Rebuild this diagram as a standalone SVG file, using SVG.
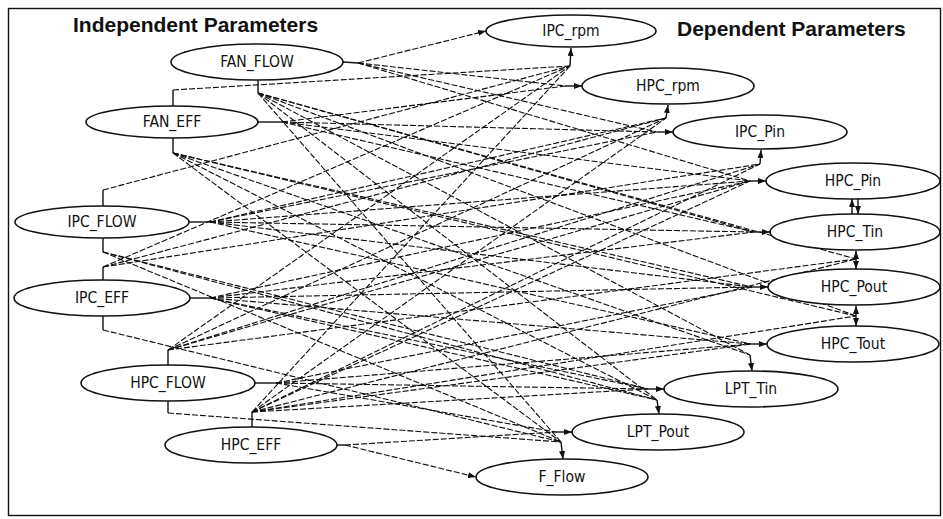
<svg xmlns="http://www.w3.org/2000/svg" width="943" height="519" viewBox="0 0 943 519">
  <style>
    .frame { fill: #ffffff; stroke: #111; stroke-width: 1.4; }
    .node ellipse { fill: #ffffff; stroke: #111; stroke-width: 1.6; }
    .node text { font-family: "DejaVu Sans Condensed", "DejaVu Sans", sans-serif; font-stretch: condensed; font-size: 15.5px; fill: #111; text-anchor: middle; }
    .head { font-family: "Liberation Sans", Arial, sans-serif; font-weight: bold; font-size: 21px; fill: #111; }
    .e { stroke: #0d0d0d; stroke-width: 1.1; stroke-dasharray: 6 2; fill: none; }
    .s { stroke: #111; stroke-width: 1.4; fill: none; }
    .arr { marker-end: url(#ah); }
  </style>
  <defs>
    <marker id="ah" markerUnits="userSpaceOnUse" markerWidth="8" markerHeight="6" refX="8" refY="3" orient="auto">
      <path d="M0,0 L8,3 L0,6 z" fill="#111"/>
    </marker>
  </defs>

  <rect class="frame" x="8.5" y="8.5" width="932" height="507"/>

  <text class="head" x="73" y="32">Independent Parameters</text>
  <text class="head" x="677" y="36">Dependent Parameters</text>

  <g id="connectors">
    <!-- port stubs on the independent nodes -->
    <line class="s" x1="343" y1="62" x2="358" y2="63"/>
    <line class="s" x1="258" y1="80" x2="258" y2="93"/>
    <line class="s" x1="173" y1="106" x2="173" y2="90"/>
    <line class="s" x1="258" y1="122" x2="282" y2="122"/>
    <line class="s" x1="173" y1="138" x2="173" y2="153"/>
    <line class="s" x1="103" y1="206" x2="103" y2="190"/>
    <line class="s" x1="189" y1="222" x2="210" y2="222"/>
    <line class="s" x1="103" y1="238" x2="103" y2="252"/>
    <line class="s" x1="103" y1="280" x2="103" y2="267"/>
    <line class="s" x1="190" y1="298" x2="210" y2="298"/>
    <line class="s" x1="103" y1="316" x2="103" y2="330"/>
    <line class="s" x1="168" y1="365" x2="168" y2="350"/>
    <line class="s" x1="255" y1="383" x2="276" y2="383"/>
    <line class="s" x1="168" y1="401" x2="168" y2="413"/>
    <line class="s" x1="252" y1="427" x2="252" y2="412"/>
    <line class="s" x1="337" y1="445" x2="345" y2="445"/>

    <!-- FAN_FLOW -->
    <line class="e arr" x1="358" y1="63" x2="486" y2="31"/>
    <line class="e" x1="358" y1="63" x2="566" y2="86"/>
    <line class="e" x1="358" y1="63" x2="657" y2="132"/>
    <line class="e" x1="358" y1="63" x2="750" y2="181"/>
    <line class="e" x1="258" y1="93" x2="754" y2="232"/>
    <line class="e" x1="258" y1="93" x2="856" y2="259"/>
    <line class="e" x1="258" y1="93" x2="856" y2="316"/>
    <line class="e" x1="258" y1="93" x2="750" y2="355"/>
    <line class="e" x1="258" y1="93" x2="657" y2="400"/>
    <line class="e" x1="258" y1="93" x2="561" y2="442"/>
    <!-- FAN_EFF -->
    <line class="e" x1="173" y1="90" x2="570" y2="66"/>
    <line class="e" x1="282" y1="122" x2="566" y2="86"/>
    <line class="e" x1="282" y1="122" x2="657" y2="132"/>
    <line class="e" x1="282" y1="122" x2="750" y2="181"/>
    <line class="e" x1="282" y1="122" x2="754" y2="232"/>
    <line class="e" x1="173" y1="153" x2="752" y2="287"/>
    <line class="e" x1="173" y1="153" x2="856" y2="316"/>
    <line class="e" x1="173" y1="153" x2="750" y2="355"/>
    <line class="e" x1="173" y1="153" x2="657" y2="400"/>
    <line class="e" x1="173" y1="153" x2="561" y2="442"/>
    <!-- IPC_FLOW -->
    <line class="e" x1="103" y1="190" x2="570" y2="66"/>
    <line class="e" x1="210" y1="222" x2="666" y2="118"/>
    <line class="e" x1="210" y1="222" x2="657" y2="132"/>
    <line class="e" x1="210" y1="222" x2="750" y2="181"/>
    <line class="e" x1="210" y1="222" x2="754" y2="232"/>
    <line class="e" x1="210" y1="222" x2="752" y2="287"/>
    <line class="e" x1="210" y1="222" x2="751" y2="344"/>
    <line class="e" x1="103" y1="252" x2="648" y2="389"/>
    <line class="e" x1="103" y1="252" x2="657" y2="400"/>
    <line class="e" x1="103" y1="252" x2="561" y2="442"/>
    <!-- IPC_EFF -->
    <line class="e" x1="103" y1="267" x2="570" y2="66"/>
    <line class="e" x1="103" y1="267" x2="666" y2="118"/>
    <line class="e" x1="103" y1="267" x2="760" y2="164"/>
    <line class="e" x1="210" y1="298" x2="750" y2="181"/>
    <line class="e" x1="210" y1="298" x2="754" y2="232"/>
    <line class="e" x1="210" y1="298" x2="752" y2="287"/>
    <line class="e" x1="210" y1="298" x2="751" y2="344"/>
    <line class="e" x1="210" y1="298" x2="648" y2="389"/>
    <line class="e" x1="210" y1="298" x2="657" y2="400"/>
    <line class="e" x1="103" y1="330" x2="561" y2="442"/>
    <!-- HPC_FLOW -->
    <line class="e" x1="168" y1="350" x2="570" y2="66"/>
    <line class="e" x1="168" y1="350" x2="666" y2="118"/>
    <line class="e" x1="168" y1="350" x2="760" y2="164"/>
    <line class="e" x1="168" y1="350" x2="750" y2="181"/>
    <line class="e" x1="168" y1="350" x2="856" y2="259"/>
    <line class="e" x1="276" y1="383" x2="752" y2="287"/>
    <line class="e" x1="276" y1="383" x2="751" y2="344"/>
    <line class="e" x1="276" y1="383" x2="648" y2="389"/>
    <line class="e" x1="276" y1="383" x2="556" y2="432"/>
    <line class="e" x1="168" y1="413" x2="561" y2="442"/>
    <!-- HPC_EFF -->
    <line class="e" x1="252" y1="412" x2="570" y2="66"/>
    <line class="e" x1="252" y1="412" x2="666" y2="118"/>
    <line class="e" x1="252" y1="412" x2="760" y2="164"/>
    <line class="e" x1="252" y1="412" x2="750" y2="181"/>
    <line class="e" x1="252" y1="412" x2="856" y2="259"/>
    <line class="e" x1="252" y1="412" x2="856" y2="316"/>
    <line class="e" x1="252" y1="412" x2="751" y2="344"/>
    <line class="e" x1="252" y1="412" x2="648" y2="389"/>
    <line class="e" x1="345" y1="445" x2="556" y2="432"/>
    <line class="e arr" x1="345" y1="445" x2="476" y2="477"/>

    <!-- arrow stubs into the dependent nodes -->
    <line class="s arr" x1="570" y1="66" x2="571" y2="48"/>
    <line class="s arr" x1="566" y1="86" x2="582" y2="86"/>
    <line class="s arr" x1="666" y1="118" x2="668" y2="105"/>
    <line class="s arr" x1="657" y1="132" x2="673" y2="132"/>
    <line class="s arr" x1="760" y1="164" x2="761" y2="150"/>
    <line class="s arr" x1="750" y1="181" x2="766" y2="181"/>
    <line class="s arr" x1="754" y1="232" x2="770" y2="232"/>
    <line class="s arr" x1="856" y1="259" x2="856" y2="251"/>
    <line class="s arr" x1="856" y1="259" x2="856" y2="269"/>
    <line class="s arr" x1="752" y1="287" x2="768" y2="287"/>
    <line class="s arr" x1="856" y1="316" x2="856" y2="306"/>
    <line class="s arr" x1="856" y1="316" x2="856" y2="326"/>
    <line class="s arr" x1="751" y1="344" x2="767" y2="344"/>
    <line class="s arr" x1="648" y1="389" x2="664" y2="389"/>
    <line class="s arr" x1="750" y1="355" x2="752" y2="371"/>
    <line class="s arr" x1="556" y1="432" x2="572" y2="432"/>
    <line class="s arr" x1="657" y1="400" x2="659" y2="414"/>
    <line class="s arr" x1="561" y1="442" x2="563" y2="459"/>
    <!-- HPC_Pin / HPC_Tin pair -->
    <line class="s arr" x1="852" y1="214" x2="852" y2="199"/>
    <line class="s arr" x1="858" y1="199" x2="858" y2="214"/>
  </g>

  <!-- independent parameters -->
  <g id="FAN_FLOW" class="node"><ellipse cx="257" cy="62" rx="86" ry="18"/><text x="257" y="67">FAN_FLOW</text></g>
  <g id="FAN_EFF" class="node"><ellipse cx="172" cy="122" rx="86" ry="16"/><text x="172" y="127">FAN_EFF</text></g>
  <g id="IPC_FLOW" class="node"><ellipse cx="102" cy="222" rx="87" ry="16"/><text x="102" y="227">IPC_FLOW</text></g>
  <g id="IPC_EFF" class="node"><ellipse cx="102" cy="298" rx="88" ry="18"/><text x="102" y="303">IPC_EFF</text></g>
  <g id="HPC_FLOW" class="node"><ellipse cx="168" cy="383" rx="87" ry="18"/><text x="168" y="388">HPC_FLOW</text></g>
  <g id="HPC_EFF" class="node"><ellipse cx="251" cy="445" rx="86" ry="18"/><text x="251" y="450">HPC_EFF</text></g>

  <!-- dependent parameters -->
  <g id="IPC_rpm" class="node"><ellipse cx="571" cy="31" rx="85" ry="16"/><text x="571" y="36">IPC_rpm</text></g>
  <g id="HPC_rpm" class="node"><ellipse cx="668" cy="86" rx="86" ry="18"/><text x="668" y="91">HPC_rpm</text></g>
  <g id="IPC_Pin" class="node"><ellipse cx="760" cy="132" rx="87" ry="17"/><text x="760" y="137">IPC_Pin</text></g>
  <g id="HPC_Pin" class="node"><ellipse cx="853" cy="181" rx="87" ry="18"/><text x="853" y="186">HPC_Pin</text></g>
  <g id="HPC_Tin" class="node"><ellipse cx="855" cy="232" rx="85" ry="18"/><text x="855" y="237">HPC_Tin</text></g>
  <g id="HPC_Pout" class="node"><ellipse cx="854" cy="287" rx="86" ry="18"/><text x="854" y="292">HPC_Pout</text></g>
  <g id="HPC_Tout" class="node"><ellipse cx="853" cy="344" rx="86" ry="18"/><text x="853" y="349">HPC_Tout</text></g>
  <g id="LPT_Tin" class="node"><ellipse cx="751" cy="389" rx="87" ry="18"/><text x="751" y="394">LPT_Tin</text></g>
  <g id="LPT_Pout" class="node"><ellipse cx="658" cy="432" rx="86" ry="18"/><text x="658" y="437">LPT_Pout</text></g>
  <g id="F_Flow" class="node"><ellipse cx="562" cy="477" rx="86" ry="18"/><text x="562" y="482">F_Flow</text></g>
</svg>
